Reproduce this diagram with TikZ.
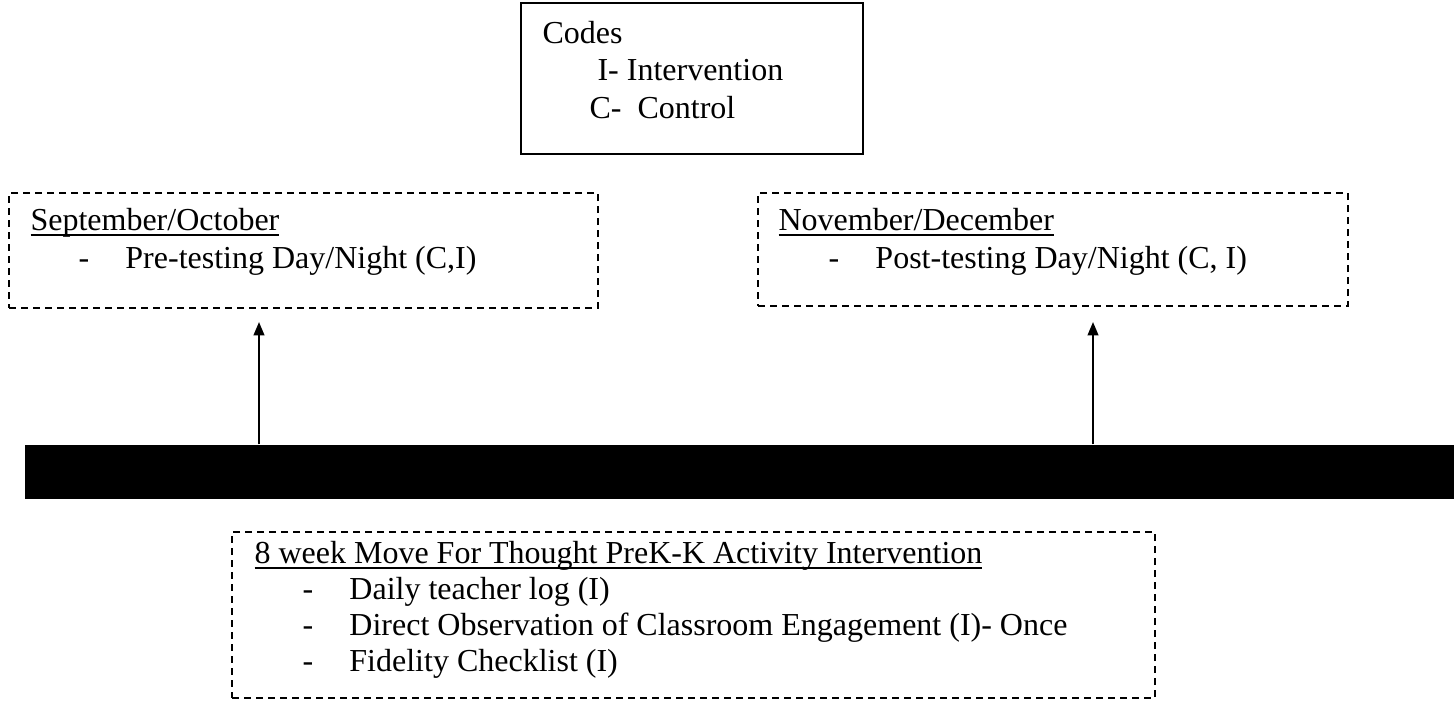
\documentclass[tikz,border=0pt]{standalone}
\usepackage{fontspec}
\setmainfont{Liberation Serif}
\usetikzlibrary{arrows.meta,fit}

\newsavebox{\ulbox}
\newcommand{\ulhead}[1]{\sbox{\ulbox}{#1}\rlap{\rule[-2.3pt]{\wd\ulbox}{0.75pt}}\usebox{\ulbox}}
\newcommand{\dashitem}[1]{\makebox[17.6pt][l]{-}#1}

\tikzset{
  plainbox/.style={draw, line width=0.75pt, inner sep=0pt},
  dashbox/.style={draw, line width=0.75pt, dash pattern=on 2.6pt off 1.9pt, inner sep=0pt},
  txt/.style={anchor=base west, inner sep=0pt},
  uparrow/.style={-{Triangle[length=5pt,width=4pt]}, line width=0.75pt},
}

\begin{document}
\begin{tikzpicture}[x=0.375pt, y=-0.375pt, font=\fontsize{12pt}{14pt}\selectfont]
    \useasboundingbox (0,0) rectangle (1454,702);

    \begin{scope}[]
    \node[plainbox, fit={(521,3) (863,154)}] (codebox) {};
    \node[txt] (codes) at (542,43) {Codes};
    \node[txt] (codei) at (597,80) {I- Intervention};
    \node[txt] (codec) at (589,118) {C-\ \ Control};
    \end{scope}

    \begin{scope}[]
    \node[dashbox, fit={(9,193) (598,308)}] (prebox) {};
    \node[txt] (prehead) at (30,230) {\ulhead{September/October}};
    \node[txt] (preitem) at (78,268) {\dashitem{Pre-testing Day/Night (C,I)}};
    \end{scope}

    \begin{scope}[]
    \node[dashbox, fit={(758,193) (1348,306)}] (postbox) {};
    \node[txt] (posthead) at (778,230) {\ulhead{November/December}};
    \node[txt] (postitem) at (828,268) {\dashitem{Post-testing Day/Night (C, I)}};
    \end{scope}

    \node[fill=black, inner sep=0pt, fit={(25,445) (1454,499)}] (bar) {};
    \coordinate (pretip) at (259,322);
    \coordinate (posttip) at (1093,322);
    \draw[uparrow] (bar.north -| pretip) -- (pretip);
    \draw[uparrow] (bar.north -| posttip) -- (posttip);

    \begin{scope}[]
    \node[dashbox, fit={(232,532) (1155,698)}] (movebox) {};
    \node[txt] (movehead) at (254,563) {\ulhead{8 week Move For Thought PreK-K Activity Intervention}};
    \node[txt] (movea) at (302,599) {\dashitem{Daily teacher log (I)}};
    \node[txt] (moveb) at (302,635) {\dashitem{Direct Observation of Classroom Engagement (I)- Once}};
    \node[txt] (movec) at (302,671) {\dashitem{Fidelity Checklist (I)}};
    \end{scope}
\end{tikzpicture}
\end{document}
